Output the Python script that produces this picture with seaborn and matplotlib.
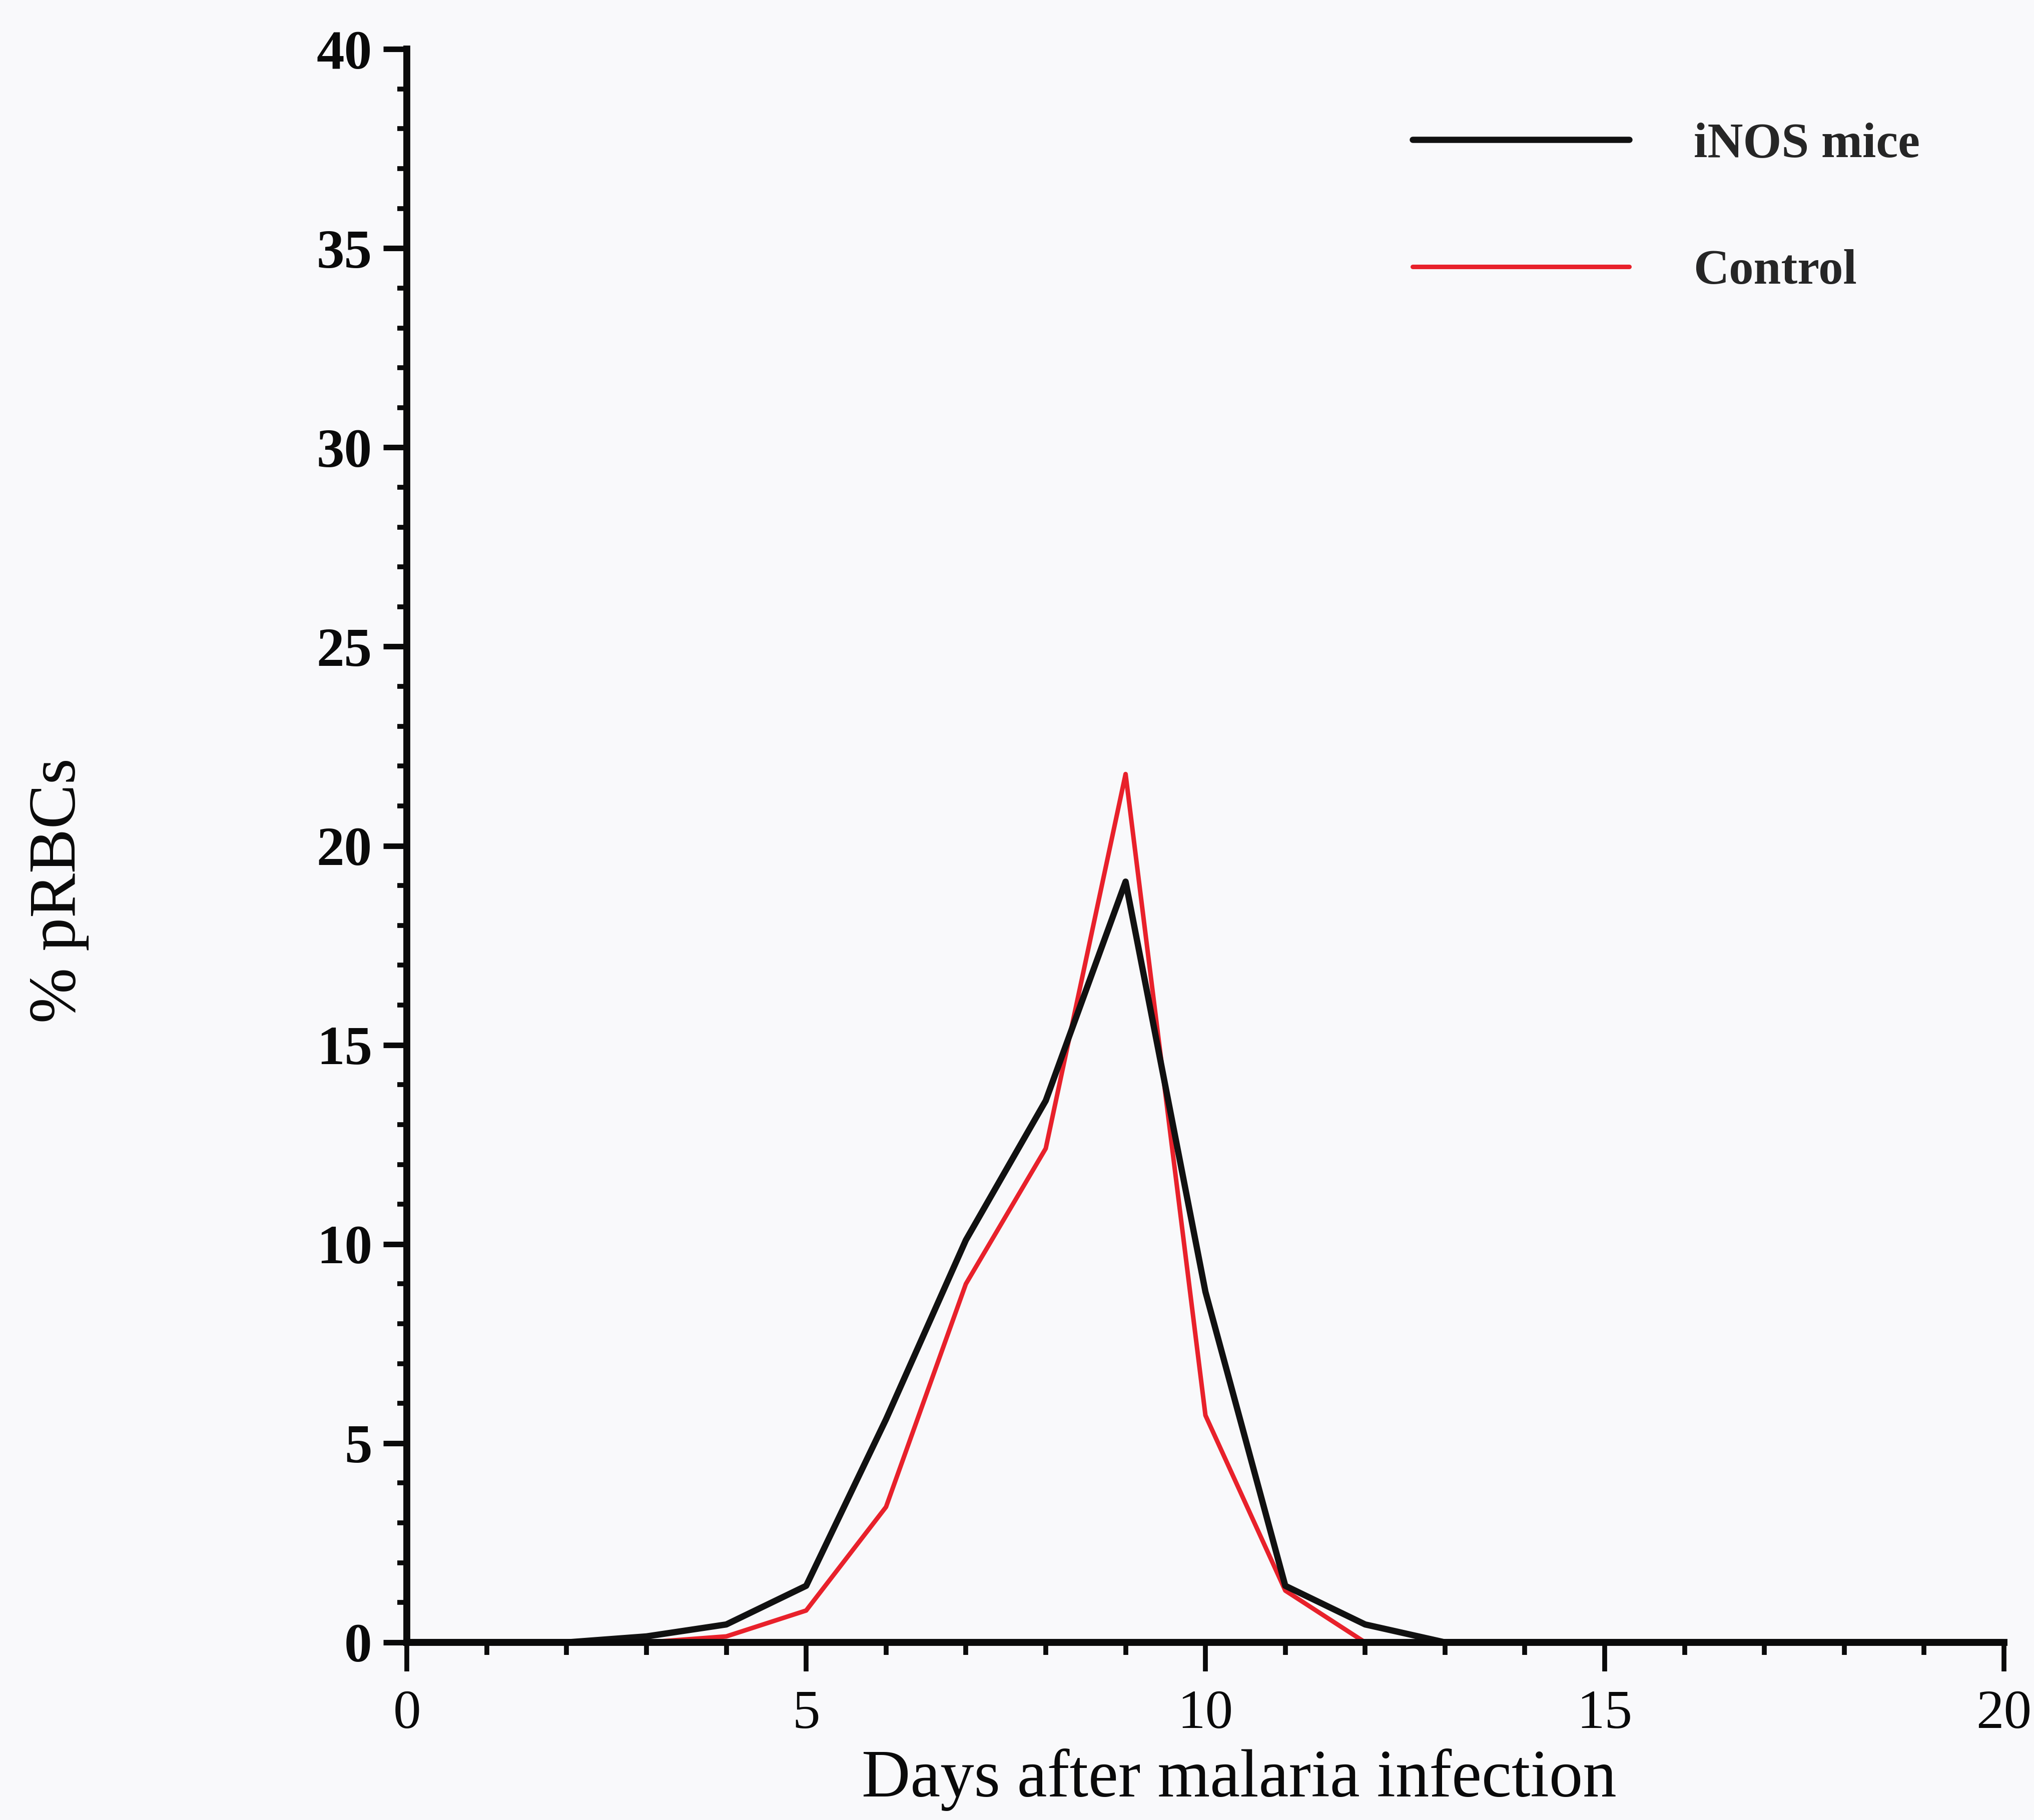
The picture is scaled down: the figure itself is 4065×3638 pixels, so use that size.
import matplotlib
matplotlib.use("Agg")
import matplotlib.pyplot as plt
from matplotlib.ticker import MultipleLocator
import numpy as np
import pandas as pd
import seaborn as sns

# Parasitaemia (% parasitised red blood cells) by day after infection
days = list(range(0, 21))
inos_mice = [0, 0, 0, 0.15, 0.45, 1.42, 5.6, 10.1, 13.6, 19.1, 8.8, 1.42, 0.45,
             0, 0, 0, 0, 0, 0, 0, 0]
control = [0, 0, 0, 0, 0.15, 0.8, 3.4, 9.0, 12.4, 21.8, 5.7, 1.3, 0,
           0, 0, 0, 0, 0, 0, 0, 0]
series_names = ["iNOS mice", "Control"]
series_colors = ["#111111", "#e8212b"]
series_widths = [9.0, 6.5]

x_ticks = [0, 5, 10, 15, 20]
y_ticks = [0, 5, 10, 15, 20, 25, 30, 35, 40]

df = pd.DataFrame({
    "day": days * 2,
    "prbc": inos_mice + control,
    "group": [series_names[0]] * len(days) + [series_names[1]] * len(days),
})

sns.set_theme(style="ticks")
plt.rcParams["font.family"] = ["Liberation Serif", "DejaVu Serif"]
bg = "#f9f9fb"
ink = "#0a0a0a"

fig = plt.figure(figsize=(40.66, 36.38), dpi=100, facecolor=bg)
ax = fig.add_axes([0.200, 0.0976, 0.785, 0.8754], facecolor=bg)

# Control first so the iNOS curve sits on top
for name, col, lw in list(zip(series_names, series_colors, series_widths))[::-1]:
    sns.lineplot(data=df[df["group"] == name], x="day", y="prbc", ax=ax,
                 color=col, linewidth=lw, label=name, legend=False)

ax.set_xlim(0, 20)
ax.set_ylim(0, 40)
ax.set_xticks(x_ticks)
ax.set_yticks(y_ticks)
ax.xaxis.set_minor_locator(MultipleLocator(1))
ax.yaxis.set_minor_locator(MultipleLocator(1))

for side in ["top", "right"]:
    ax.spines[side].set_visible(False)
for side in ["left", "bottom"]:
    ax.spines[side].set_linewidth(10)
    ax.spines[side].set_color(ink)
    ax.spines[side].set_capstyle("projecting")

ax.tick_params(axis="x", which="major", direction="out", length=42, width=7,
               pad=26, labelsize=80, colors=ink)
ax.tick_params(axis="x", which="minor", direction="out", length=18, width=7,
               colors=ink)
ax.tick_params(axis="y", which="major", direction="out", length=34, width=8,
               pad=16, labelsize=80, colors=ink)
ax.tick_params(axis="y", which="minor", direction="out", length=14, width=7,
               colors=ink)
for lab in ax.get_yticklabels():
    lab.set_fontweight("bold")

ax.set_xlabel("Days after malaria infection", fontsize=97, color=ink)
ax.xaxis.set_label_coords(0.521, -0.0665)
ax.set_ylabel("% pRBCs", fontsize=96, color=ink)
ax.yaxis.set_label_coords(-0.199, 0.472)

handles, labels = ax.get_legend_handles_labels()
order = [labels.index(n) for n in series_names]
leg = ax.legend([handles[i] for i in order], [labels[i] for i in order],
                loc="upper right", bbox_to_anchor=(0.975, 0.982),
                frameon=False, handlelength=4.4, handletextpad=1.3,
                labelspacing=1.66, prop={"size": 71, "weight": "bold"})

fig.savefig("out.png", dpi=100, facecolor=bg)
